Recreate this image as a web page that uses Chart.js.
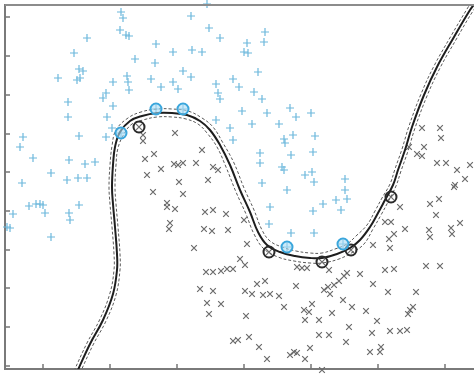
<!DOCTYPE html>
<html>
<head>
<meta charset="utf-8">
<script src="https://cdn.jsdelivr.net/npm/chart.js@4/dist/chart.umd.min.js"></script>
<style>
  body { margin: 0; background: #fff; }
</style>
</head>
<body>
<canvas id="svmChart" width="474" height="375"></canvas>
<script>
// values are in picture units: x grows to the right, y grows downward
const xTicks = [43, 110, 177, 244, 311, 378, 445];
const yTicks = [17, 56, 95, 134, 172, 211, 250, 288, 327, 366];

// class +1 (blue plus)
const plusPts = [
  [121,12],[123,18],[120,30],[126,35],[129,36],[87,38],[191,16],[207,4],[209,28],[220,38],
  [156,44],[74,53],[173,52],[192,50],[202,52],[135,59],[155,63],[79,69],[83,71],[58,78],
  [80,78],[77,80],[127,76],[151,79],[183,71],[191,77],[128,82],[129,90],[113,82],[161,87],
  [173,82],[178,89],[216,84],[233,79],[218,93],[220,99],[106,93],[103,98],[68,102],[113,106],
  [68,117],[107,117],[112,128],[79,136],[106,137],[23,137],[20,147],[33,158],[69,160],[85,164],
  [95,162],[51,173],[67,180],[78,178],[87,178],[22,183],[216,120],[230,128],[233,140],
  [265,32],[264,42],[247,43],[244,52],[248,53],[258,72],[239,87],[254,92],[262,99],[242,111],
  [267,113],[290,108],[296,117],[311,113],[252,124],[279,124],[293,135],[284,139],[315,136],[285,143],
  [260,153],[260,163],[291,155],[313,152],[282,167],[284,170],[305,175],[312,172],[345,179],[262,183],
  [314,182],[29,206],[36,204],[40,204],[43,205],[45,213],[13,214],[7,227],[10,228],[69,213],
  [70,220],[79,205],[51,237],[287,190],[345,190],[347,199],[336,200],[323,204],[313,211],[341,210],
  [270,207],[269,224],[291,233],[314,233],
  [121,133],[156,109],[183,109],[287,247],[343,244]
];

// class -1 (grey cross)
const crossPts = [
  [175,133],[143,135],[143,141],[154,154],[145,159],[174,164],[178,165],[183,163],[196,163],[202,150],
  [213,167],[218,170],[147,175],[161,169],[179,182],[208,180],
  [422,128],[440,128],[441,138],[424,147],[417,154],[422,156],[437,163],[446,163],[457,170],[470,165],
  [465,179],[455,185],[409,147],
  [153,192],[183,194],[167,203],[167,207],[175,209],[170,223],[169,229],[205,212],[213,210],[226,214],
  [204,229],[212,231],[228,230],[194,248],[206,272],[213,272],[221,271],[227,269],[233,269],[200,289],
  [213,291],[207,303],[221,304],[209,314],[233,341],
  [244,220],[247,244],[240,259],[245,265],[297,267],[302,268],[307,268],[329,270],[344,276],[347,273],
  [339,281],[334,285],[360,274],[373,245],[389,239],[390,248],[394,234],[385,222],[391,222],[405,229],
  [400,207],[430,204],[439,199],[436,215],[460,223],[451,228],[452,234],[429,230],[430,237],[385,270],
  [394,269],[426,266],[440,266],[373,284],[388,292],[416,292],[410,310],[413,307],[408,314],[257,284],
  [265,281],[245,291],[252,294],[263,295],[270,294],[279,296],[296,286],[324,290],[328,287],[330,294],
  [312,304],[304,310],[309,312],[284,307],[343,300],[352,307],[366,311],[332,313],[305,320],[319,320],
  [246,316],[249,337],[319,335],[329,335],[349,327],[377,321],[372,333],[390,331],[400,331],[407,330],
  [346,342],[259,347],[294,352],[297,353],[290,355],[310,348],[305,359],[267,359],[370,352],[381,347],
  [380,352],[322,370],[454,187],[238,340],
  [139,127],[269,252],[322,262],[351,250],[391,197]
];

// support vectors
const svPlus = [[121,133],[156,109],[183,109],[287,247],[343,244]];
const svCross = [[139,127],[269,252],[322,262],[351,250],[391,197]];

// decision boundary and its two margins
const boundary = [
  [77,372],[90,344],[103,320],[113,294],[117,270],[117,254],[115,227],[113,204],[112,187],[113,165],
  [115,147],[120,132],[130,121],[142,116],[157,113],[172,113],[187,115],[200,121],[210,130],[220,145],
  [230,165],[240,190],[250,212],[258,232],[267,245],[280,252],[295,256],[310,258],[322,258],[337,254],
  [350,248],[360,240],[370,227],[378,213],[385,200],[393,185],[398,170],[405,150],[412,127],[424,95],
  [437,67],[454,37],[470,10],[476,2]
];
const marginPlus = [
  [74,371],[87,343],[100,319],[110,293],[114,270],[114,254],[112,227],[110,204],[109,187],[110,165],
  [112,146],[116,130],[128,118],[141,112],[157,109],[172,109],[188,111],[202,118],[213,127],[223,143],
  [234,163],[244,188],[254,210],[262,230],[270,241],[282,247],[296,251],[310,253],[322,253],[335,249],
  [347,244],[356,236],[367,225],[375,211],[382,198],[390,184],[395,169],[402,149],[409,126],[421,94],
  [434,66],[451,36],[467,9],[473,0]
];
const marginCross = [
  [80,373],[93,345],[106,321],[116,295],[120,270],[120,254],[118,227],[116,204],[115,187],[116,165],
  [118,148],[124,134],[132,124],[143,120],[157,117],[172,117],[186,119],[198,124],[207,133],[217,147],
  [226,167],[236,192],[246,214],[254,234],[264,249],[278,257],[294,261],[310,263],[322,263],[339,259],
  [353,252],[364,244],[373,229],[381,215],[388,202],[396,186],[401,171],[408,151],[415,128],[427,96],
  [440,68],[457,38],[473,11],[479,4]
];

const toXY = (arr) => arr.map(p => ({ x: p[0], y: p[1] }));

// top frame line and the short inward ticks
const frame = {
  id: 'frame',
  afterDraw(chart) {
    const ctx = chart.ctx;
    const area = chart.chartArea;
    const xs = chart.scales.x, ys = chart.scales.y;
    ctx.save();
    ctx.strokeStyle = '#8c8c8c';
    ctx.lineWidth = 2;
    ctx.beginPath();
    ctx.moveTo(area.left, area.top);
    ctx.lineTo(area.right, area.top);
    ctx.stroke();
    ctx.lineWidth = 1.5;
    ctx.strokeStyle = '#777';
    ctx.beginPath();
    xTicks.forEach(v => {
      const px = xs.getPixelForValue(v);
      ctx.moveTo(px, area.bottom);
      ctx.lineTo(px, area.bottom - 5);
    });
    yTicks.forEach(v => {
      const py = ys.getPixelForValue(v);
      ctx.moveTo(area.left, py);
      ctx.lineTo(area.left + 5, py);
    });
    ctx.stroke();
    ctx.restore();
  }
};

new Chart(document.getElementById('svmChart'), {
  type: 'scatter',
  data: {
    datasets: [
      {
        label: 'boundary',
        data: toXY(boundary),
        showLine: true,
        borderColor: '#1e1e1e',
        borderWidth: 2,
        pointRadius: 0,
        tension: 0.4,
        order: 1
      },
      {
        label: 'margin +1',
        data: toXY(marginPlus),
        showLine: true,
        borderColor: '#5a5a5a',
        borderWidth: 1,
        borderDash: [3, 2],
        pointRadius: 0,
        tension: 0.4,
        order: 1
      },
      {
        label: 'margin -1',
        data: toXY(marginCross),
        showLine: true,
        borderColor: '#5a5a5a',
        borderWidth: 1,
        borderDash: [3, 2],
        pointRadius: 0,
        tension: 0.4,
        order: 1
      },
      {
        label: 'SV +1',
        data: toXY(svPlus),
        pointStyle: 'circle',
        pointRadius: 5.5,
        borderWidth: 2,
        borderColor: '#3aa6dc',
        backgroundColor: 'rgba(170,220,245,0.6)',
        clip: false,
        order: 0
      },
      {
        label: 'SV -1',
        data: toXY(svCross),
        pointStyle: 'circle',
        pointRadius: 5.5,
        borderWidth: 2,
        borderColor: '#2a2a2a',
        backgroundColor: 'rgba(255,255,255,0)',
        clip: false,
        order: 0
      },
      {
        label: '+1',
        data: toXY(plusPts),
        pointStyle: 'cross',
        pointRadius: 4,
        borderWidth: 1.2,
        borderColor: '#6db8dc',
        clip: false,
        order: 2
      },
      {
        label: '-1',
        data: toXY(crossPts),
        pointStyle: 'crossRot',
        pointRadius: 4,
        borderWidth: 1.2,
        borderColor: '#6a6a6a',
        clip: false,
        order: 2
      }
    ]
  },
  options: {
    responsive: false,
    animation: false,
    layout: { autoPadding: false, padding: { left: 5, right: 0, top: 5, bottom: 6 } },
    scales: {
      x: {
        type: 'linear',
        min: 5,
        max: 474,
        ticks: { display: false },
        grid: { display: false, drawTicks: false },
        border: { display: true, color: '#7a7a7a', width: 2 }
      },
      y: {
        type: 'linear',
        min: 5,
        max: 369,
        reverse: true,
        ticks: { display: false },
        grid: { display: false, drawTicks: false },
        border: { display: true, color: '#7a7a7a', width: 2 }
      }
    },
    plugins: {
      legend: { display: false },
      tooltip: { enabled: false }
    }
  },
  plugins: [frame]
});
</script>
</body>
</html>
